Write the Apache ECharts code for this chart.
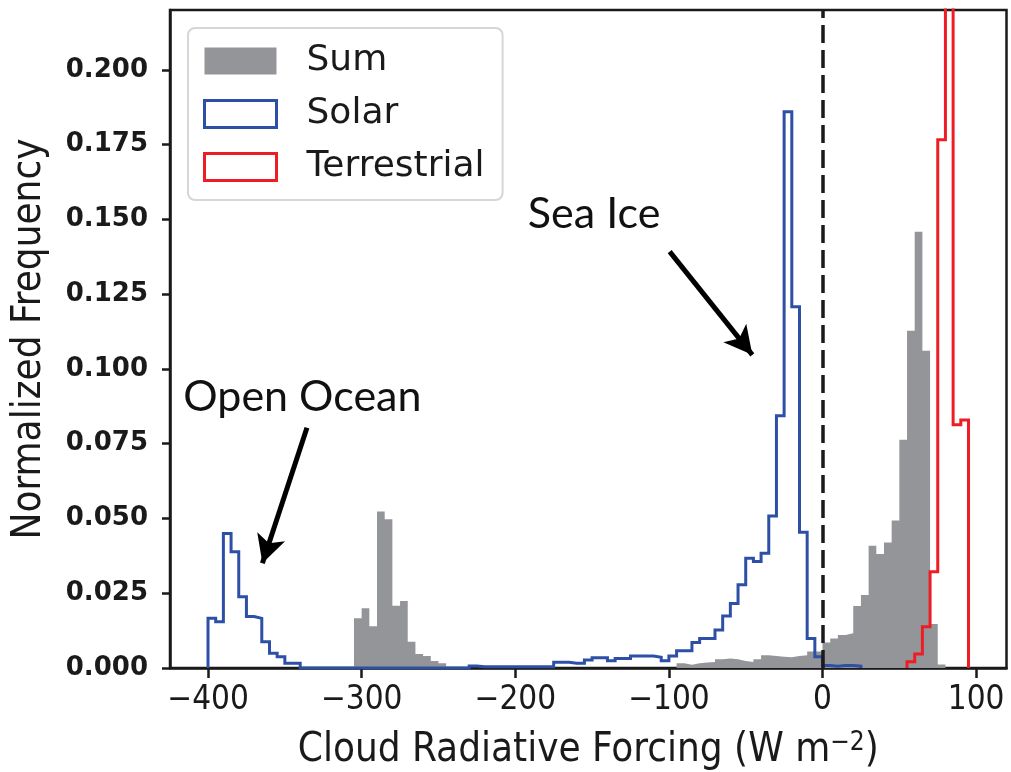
<!DOCTYPE html>
<html>
<head>
<meta charset="utf-8">
<script src="https://cdn.jsdelivr.net/npm/echarts@6/dist/echarts.min.js"></script>
<style>
  html, body { margin: 0; padding: 0; background: #fff; }
  #chart { width: 1011px; height: 772px; }
</style>
</head>
<body>
<div id="chart"></div>
<script>
// Histogram bin width (W m^-2) shared by all three distributions
const binWidth = 5;

// Sum: first bin starts at -305
const sumStart = -305;
const sumFreq = [
  0.0166, 0.0200, 0.0140, 0.0523, 0.0497, 0.0208, 0.0224, 0.0088, 0.0047, 0.0040, 0.0023, 0.0016,
  0, 0, 0, 0, 0, 0, 0, 0, 0, 0, 0, 0, 0, 0, 0,
  0, 0, 0, 0, 0, 0, 0, 0, 0, 0, 0, 0, 0, 0, 0,
  0.0016, 0.0011, 0.0016, 0.0018, 0.0020, 0.0029, 0.0032, 0.0029, 0.0023, 0.0020,
  0.0029, 0.0043, 0.0040, 0.0038, 0.0036, 0.0040, 0.0043, 0.0055, 0.0055,
  0.0085, 0.0099, 0.0110, 0.0116, 0.0207, 0.0244, 0.0409, 0.0381, 0.0420, 0.0493,
  0.0763, 0.1128, 0.1459, 0.1061, 0.0147, 0.0012
];

// Solar: first bin starts at -400
const solarStart = -400;
const solarFreq = [
  0.0166, 0.0155, 0.0450, 0.0389, 0.0238, 0.0172, 0.0166, 0.0088, 0.0049, 0.0038, 0.0016, 0.0016,
  0, 0, 0, 0, 0, 0, 0, 0, 0, 0, 0, 0, 0, 0, 0, 0, 0, 0, 0, 0, 0, 0,
  0.0007,
  0.0004, 0.0004, 0.0004, 0.0004, 0.0004, 0.0004, 0.0004, 0.0004, 0.0004, 0.0004,
  0.0019, 0.0019, 0.0016, 0.0016, 0.0027, 0.0034, 0.0034, 0.0024, 0.0032, 0.0032,
  0.0040, 0.0040, 0.0040, 0.0036, 0.0024, 0.0040, 0.0058, 0.0058, 0.0085, 0.0099,
  0.0099, 0.0127, 0.0174, 0.0216, 0.0278, 0.0367, 0.0356, 0.0384, 0.0508, 0.0843,
  0.1860, 0.1208, 0.0454, 0.0099, 0.0038, 0.0008, 0.0006, 0.0008, 0.0008, 0.0006
];

// Terrestrial: first bin starts at 55
const terrStart = 55;
const terrFreq = [0.0021, 0.0047, 0.0138, 0.0322, 0.1766, 0.4000, 0.0813, 0.0829];

const xTicks = [-400, -300, -200, -100, 0, 100];
const yTicks = [0, 0.025, 0.05, 0.075, 0.1, 0.125, 0.15, 0.175, 0.2];

const seriesNames = ['Sum', 'Solar', 'Terrestrial'];
const annotations = [
  { text: 'Sea Ice', at: [-191.8, 0.1518], from: [-99.5, 0.1392], to: [-45.7, 0.1047] },
  { text: 'Open Ocean', at: [-416.1, 0.0906], from: [-335.6, 0.0803], to: [-364.6, 0.0350] }
];

const colors = { sum: '#939598', solar: '#2d4fa5', terr: '#ee1d25' };

// Turn bin heights into step-outline vertices: [left edge, height] ... [right edge, 0]
function stepPoints(start, freq) {
  const pts = [[start, 0]];
  freq.forEach((f, i) => pts.push([start + i * binWidth, f]));
  pts.push([start + freq.length * binWidth, 0]);
  return pts;
}

const fmtX = v => (v < 0 ? '\u2212' + Math.abs(v) : String(v));

const chart = echarts.init(document.getElementById('chart'), null, { renderer: 'canvas' });

const option = {
  animation: false,
  backgroundColor: '#fff',
  grid: {
    left: 170, right: 4.5, top: 10, bottom: 104,
    outerBoundsMode: 'none', containLabel: false,
    show: true, borderColor: '#1a1a1a', borderWidth: 2.5, backgroundColor: 'transparent'
  },
  legend: {
    left: 188, top: 28,
    orient: 'vertical',
    backgroundColor: '#fff',
    borderColor: '#d6d6d6', borderWidth: 2, borderRadius: 7,
    padding: [12, 18, 12, 15],
    itemWidth: 72, itemHeight: 27, itemGap: 11,
    textStyle: { fontFamily: 'DejaVu Sans', fontSize: 36, color: '#1a1a1a', lineHeight: 42, padding: [0, 0, 0, 25] },
    selectedMode: false,
    data: [
      { name: 'Sum', icon: 'rect', itemStyle: { color: colors.sum, borderWidth: 0 } },
      { name: 'Solar', icon: 'rect', itemStyle: { color: '#fff', borderColor: colors.solar, borderWidth: 3 } },
      { name: 'Terrestrial', icon: 'rect', itemStyle: { color: '#fff', borderColor: colors.terr, borderWidth: 3 } }
    ]
  },
  xAxis: {
    type: 'value',
    min: -424.75, max: 119.75,
    name: 'Cloud Radiative Forcing (W m{sup|\u22122})',
    nameLocation: 'middle', nameGap: 62,
    nameTextStyle: {
      fontFamily: 'DejaVu Sans Condensed, Liberation Sans Narrow, DejaVu Sans',
      fontSize: 40, color: '#1a1a1a',
      rich: { sup: { fontFamily: 'DejaVu Sans Condensed, DejaVu Sans', fontSize: 26, verticalAlign: 'top', padding: [0, 0, 16, 0], color: '#1a1a1a' } }
    },
    axisLine: { show: true, onZero: false, lineStyle: { color: '#1a1a1a', width: 2.5 } },
    axisTick: { show: true, inside: false, length: 10, customValues: xTicks, lineStyle: { color: '#1a1a1a', width: 2.5 } },
    axisLabel: {
      customValues: xTicks, formatter: fmtX, margin: 16,
      fontFamily: 'DejaVu Sans Condensed, Liberation Sans Narrow, DejaVu Sans',
      fontSize: 33, color: '#1a1a1a'
    },
    splitLine: { show: false }
  },
  yAxis: {
    type: 'value',
    min: 0, max: 0.22,
    name: 'Normalized Frequency',
    nameLocation: 'middle', nameGap: 120,
    nameTextStyle: {
      fontFamily: 'DejaVu Sans Condensed, Liberation Sans Narrow, DejaVu Sans',
      fontSize: 40, color: '#1a1a1a'
    },
    axisLine: { show: true, onZero: false, lineStyle: { color: '#1a1a1a', width: 2.5 } },
    axisTick: { show: true, inside: false, length: 8, customValues: yTicks, lineStyle: { color: '#1a1a1a', width: 2.5 } },
    axisLabel: {
      customValues: yTicks, formatter: v => v.toFixed(3), margin: 22,
      fontFamily: 'DejaVu Sans', fontWeight: 'bold', fontSize: 26, color: '#1a1a1a'
    },
    splitLine: { show: false }
  },
  series: [
    {
      name: seriesNames[0], type: 'line', step: 'end', z: 2,
      data: stepPoints(sumStart, sumFreq),
      showSymbol: false, symbol: 'none',
      lineStyle: { width: 0, color: colors.sum },
      itemStyle: { color: colors.sum },
      areaStyle: { color: colors.sum, opacity: 1 }
    },
    {
      name: seriesNames[1], type: 'line', step: 'end', z: 3,
      data: stepPoints(solarStart, solarFreq),
      showSymbol: false, symbol: 'none',
      lineStyle: { width: 3, color: colors.solar, join: 'miter' },
      itemStyle: { color: colors.solar }
    },
    {
      name: seriesNames[2], type: 'line', step: 'end', z: 4,
      data: stepPoints(terrStart, terrFreq),
      showSymbol: false, symbol: 'none',
      lineStyle: { width: 3, color: colors.terr, join: 'miter' },
      itemStyle: { color: colors.terr }
    },
    {
      // dashed reference line at zero forcing
      name: 'zero', type: 'line', z: 5, data: [], silent: true,
      markLine: {
        silent: true, animation: false, symbol: ['none', 'none'],
        label: { show: false },
        lineStyle: { type: [18, 7], width: 3.5, color: '#1a1a1a' },
        data: [{ xAxis: 0 }]
      }
    },
    {
      // annotation arrows
      name: 'arrows', type: 'line', z: 6, data: [], silent: true,
      markLine: {
        silent: true, animation: false, symbol: ['none', 'arrow'], symbolSize: [22, 28],
        label: { show: false },
        lineStyle: { type: 'solid', width: 5, color: '#000' },
        data: annotations.map(a => [{ coord: a.from }, { coord: a.to }])
      }
    }
  ]
};

chart.setOption(option);

// Annotation captions placed in data coordinates
chart.setOption({
  graphic: annotations.map(a => {
    const p = chart.convertToPixel({ gridIndex: 0 }, a.at);
    return {
      type: 'text', x: p[0], y: p[1], z: 10,
      style: { text: a.text, fontFamily: 'Lato', fontSize: 43, fill: '#111', textVerticalAlign: 'middle', textAlign: 'left' }
    };
  })
});
</script>
</body>
</html>
